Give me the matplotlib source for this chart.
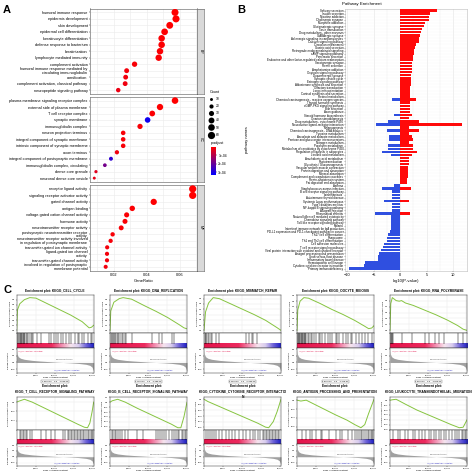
import numpy as np
import matplotlib
matplotlib.use("Agg")
import matplotlib.pyplot as plt
from matplotlib.colors import LinearSegmentedColormap, Normalize
from matplotlib.cm import ScalarMappable
from matplotlib.lines import Line2D

# ---------------- panel A: GO dot plot ----------------
bp_terms = ["humoral immune response", "epidermis development", "skin development",
            "epidermal cell differentiation", "keratinocyte differentiation",
            "defense response to bacterium", "keratinization", "lymphocyte mediated immunity",
            "complement activation", "humoral immune response mediated by\ncirculating immunoglobulin",
            "cornification", "complement activation, classical pathway", "neuropeptide signaling pathway"]
bp_ratio = [0.0570, 0.0576, 0.0538, 0.0507, 0.0489, 0.0489, 0.0479, 0.0471, 0.0325, 0.0277, 0.0271, 0.0268, 0.0226]
bp_count = [57, 58, 54, 51, 49, 49, 48, 47, 33, 28, 27, 27, 23]
bp_padj = [1e-6, 1e-6, 2e-6, 3e-6, 4e-6, 4e-6, 5e-6, 6e-6, 1e-5, 1.5e-5, 1.8e-5, 2e-5, 2.5e-5]

cc_terms = ["plasma membrane signaling receptor complex", "external side of plasma membrane",
            "T cell receptor complex", "synaptic membrane", "immunoglobulin complex",
            "neuron projection terminus", "integral component of synaptic membrane",
            "intrinsic component of synaptic membrane", "axon terminus",
            "integral component of postsynaptic membrane", "immunoglobulin complex, circulating",
            "dense core granule", "neuronal dense core vesicle"]
cc_ratio = [0.0570, 0.0479, 0.0432, 0.0404, 0.0358, 0.0256, 0.0256, 0.0256, 0.0218, 0.0182, 0.0145, 0.0091, 0.0081]
cc_count = [50, 46, 38, 36, 32, 24, 24, 24, 21, 18, 16, 12, 10]
cc_padj = [1e-6, 2e-6, 5e-6, 3.1e-4, 1e-5, 1e-5, 1e-5, 1e-5, 2e-5, 2.7e-4, 1.8e-4, 4e-5, 3e-5]

mf_terms = ["receptor ligand activity", "signaling receptor activator activity", "gated channel activity",
            "antigen binding", "voltage-gated cation channel activity", "hormone activity",
            "neurotransmitter receptor activity", "postsynaptic neurotransmitter receptor\nactivity",
            "neurotransmitter receptor activity involved\nin regulation of postsynaptic membrane",
            "transmitter-gated ion channel activity", "ligand-gated ion channel\nactivity",
            "transmitter-gated channel activity", "involved in regulation of postsynaptic\nmembrane potential"]
mf_ratio = [0.0677, 0.0677, 0.0441, 0.0311, 0.0277, 0.0267, 0.0244, 0.0192, 0.0180, 0.0159, 0.0158, 0.0158, 0.0150]
mf_count = [60, 60, 45, 34, 30, 29, 28, 22, 21, 20, 20, 20, 19]
mf_padj = [1e-6, 1e-6, 3e-6, 5e-6, 6e-6, 7e-6, 8e-6, 1e-5, 1.2e-5, 1.5e-5, 1.5e-5, 1.5e-5, 1.8e-5]

legend_counts = [10, 20, 30, 40, 50, 60]

# ---------------- panel B: KEGG bars ----------------
pathways = [
    "Salivary secretion", "Insulin secretion", "Nicotine addiction", "Cholinergic synapse",
    "Morphine addiction", "Glutamatergic synapse", "Taste transduction", "Drug metabolism - other enzymes",
    "GABAergic synapse", "Adrenergic signaling in cardiomyocytes", "Calcium signaling pathway",
    "Circadian entrainment", "Gastric acid secretion", "Retrograde endocannabinoid signaling",
    "cAMP signaling pathway", "Pancreatic secretion",
    "Endocrine and other factor-regulated calcium reabsorption", "Serotonergic synapse",
    "Renin secretion", "Amphetamine addiction", "Oxytocin signaling pathway", "Dopaminergic synapse",
    "Synaptic vesicle cycle", "Estrogen signaling pathway", "Aldosterone synthesis and secretion",
    "Olfactory transduction", "Long-term potentiation", "Cortisol synthesis and secretion",
    "Retinol metabolism", "Chemical carcinogenesis - reactive oxygen species",
    "Thyroid hormone synthesis", "cGMP-PKG signaling pathway", "Bile secretion", "Axon guidance",
    "Steroid hormone biosynthesis", "Ovarian steroidogenesis", "Drug metabolism - cytochrome P450",
    "Neuroactive ligand-receptor interaction", "Melanogenesis", "Chemical carcinogenesis - DNA adducts",
    "Tyrosine metabolism", "Ascorbate and aldarate metabolism", "Pentose and glucuronate interconversions",
    "Nitrogen metabolism", "Porphyrin metabolism", "Metabolism of xenobiotics by cytochrome P450",
    "Regulation of lipolysis in adipocytes", "Linoleic acid metabolism", "Arachidonic acid metabolism",
    "Phototransduction", "Glycolysis / Gluconeogenesis", "Vascular smooth muscle contraction",
    "Protein digestion and absorption", "Mineral absorption", "Complement and coagulation cascades",
    "Renin-angiotensin system", "Fat digestion and absorption", "Asthma",
    "Staphylococcus aureus infection", "B cell receptor signaling pathway", "Leishmaniasis",
    "Autoimmune thyroid disease", "Systemic lupus erythematosus", "Type I diabetes mellitus",
    "NF-kappa B signaling pathway", "Allograft rejection", "Rheumatoid arthritis",
    "Natural killer cell mediated cytotoxicity", "Chemokine signaling pathway",
    "Toll-like receptor signaling pathway", "Malaria", "Intestinal immune network for IgA production",
    "PD-L1 expression and PD-1 checkpoint pathway in cancer", "Th17 cell differentiation", "Phagosome",
    "Th1 and Th2 cell differentiation", "Cell adhesion molecules", "T cell receptor signaling pathway",
    "Viral protein interaction with cytokine and cytokine receptor", "Antigen processing and presentation",
    "Graft-versus-host disease", "Inflammatory bowel disease", "Hematopoietic cell lineage",
    "Cytokine-cytokine receptor interaction", "Primary immunodeficiency"]
up_logp = [6.9, 5.7, 5.5, 5.5, 4.7, 4.4, 4.2, 4.0, 3.8, 3.6,
           3.5, 2.9, 2.8, 2.7, 2.6, 2.5, 2.4, 2.3, 2.3, 2.2,
           2.2, 2.1, 2.1, 2.0, 1.95, 1.9, 1.9, 1.9, 1.9, 2.95,
           1.9, 1.9, 1.8, 1.8, 2.2, 1.7, 3.5, 11.6, 1.7, 3.6,
           1.7, 2.3, 2.45, 1.6, 2.5, 2.5, 3.1, 2.2, 1.6, 1.6,
           1.6, 1.4, 1.4, 1.4, 1.4, 1.3, 1.2, 0, 2.0, 0,
           0, 0, 1.6, 0, 0, 0, 1.9, 0, 0, 0,
           0, 0, 0, 0, 0, 0, 0, 0, 0, 0,
           0, 0, 0, 0, 0]
down_logp = [0, 0, 0, 0, 0, 0, 0, 0, 0, 0,
             0, 0, 0, 0, 0, 0, 0, 0, 0, 0,
             0, 0, 0, 0, 0, 0, 0, 0, 0, -1.45,
             0, 0, 0, 0, -1.25, 0, -2.2, -4.6, 0, -2.4,
             0, -2.1, -2.1, 0, -2.3, -2.3, -3.5, -1.8, 0, 0,
             0, 0, 0, 0, 0, 0, 0, -1.25, -3.5, -1.45,
             -1.45, -1.45, -3.0, -1.5, -1.5, -1.5, -4.8, -1.7, -1.7, -1.7,
             -1.7, -1.8, -1.9, -2.2, -2.4, -2.5, -3.0, -3.3, -3.6, -3.9,
             -4.1, -4.2, -6.6, -6.9, -9.6]

# ---------------- panel C: GSEA plots ----------------
n_genes = 20300
gsea_titles = ["Enrichment plot: KEGG_CELL_CYCLE", "Enrichment plot: KEGG_DNA_REPLICATION",
               "Enrichment plot: KEGG_MISMATCH_REPAIR", "Enrichment plot: KEGG_OOCYTE_MEIOSIS",
               "Enrichment plot: KEGG_RNA_POLYMERASE",
               "Enrichment plot:\nKEGG_T_CELL_RECEPTOR_SIGNALING_PATHWAY",
               "Enrichment plot:\nKEGG_B_CELL_RECEPTOR_SIGNALING_PATHWAY",
               "Enrichment plot:\nKEGG_CYTOKINE_CYTOKINE_RECEPTOR_INTERACTIO\nN",
               "Enrichment plot:\nKEGG_ANTIGEN_PROCESSING_AND_PRESENTATION",
               "Enrichment plot:\nKEGG_LEUKOCYTE_TRANSENDOTHELIAL_MIGRATION"]
es_x = [
    [0, 0.01, 0.04, 0.1, 0.17, 0.25, 0.4, 0.55, 0.7, 0.85, 0.94, 0.97, 1.0],
    [0, 0.01, 0.05, 0.12, 0.17, 0.28, 0.45, 0.6, 0.75, 0.9, 0.96, 1.0],
    [0, 0.02, 0.06, 0.12, 0.2, 0.35, 0.5, 0.65, 0.8, 0.95, 1.0],
    [0, 0.01, 0.04, 0.09, 0.15, 0.3, 0.45, 0.6, 0.75, 0.88, 0.93, 0.97, 1.0],
    [0, 0.01, 0.03, 0.08, 0.12, 0.15, 0.2, 0.3, 0.45, 0.6, 0.75, 0.88, 0.95, 1.0],
    [0, 0.03, 0.1, 0.2, 0.35, 0.5, 0.65, 0.8, 0.88, 0.92, 0.95, 0.98, 1.0],
    [0, 0.03, 0.1, 0.2, 0.35, 0.5, 0.65, 0.8, 0.88, 0.92, 0.96, 1.0],
    [0, 0.05, 0.15, 0.3, 0.45, 0.6, 0.7, 0.8, 0.84, 0.9, 0.95, 1.0],
    [0, 0.05, 0.12, 0.2, 0.35, 0.5, 0.65, 0.75, 0.83, 0.88, 0.93, 1.0],
    [0, 0.03, 0.08, 0.2, 0.35, 0.5, 0.65, 0.8, 0.9, 0.95, 1.0]]
es_y = [
    [0, 0.4, 0.52, 0.6, 0.64, 0.63, 0.52, 0.41, 0.3, 0.17, 0.05, 0.06, 0.1],
    [0, 0.38, 0.55, 0.62, 0.64, 0.61, 0.48, 0.37, 0.25, 0.11, 0.05, 0.03],
    [0, 0.35, 0.52, 0.62, 0.6, 0.5, 0.4, 0.3, 0.19, 0.05, 0.0],
    [0, 0.35, 0.5, 0.56, 0.55, 0.46, 0.36, 0.27, 0.17, 0.07, 0.03, 0.04, 0.08],
    [0, 0.45, 0.55, 0.5, 0.49, 0.5, 0.46, 0.42, 0.34, 0.26, 0.17, 0.08, 0.02, 0.0],
    [0, 0.02, 0.06, 0.0, -0.12, -0.24, -0.36, -0.48, -0.54, -0.55, -0.45, -0.2, 0.0],
    [0, 0.03, 0.06, 0.0, -0.12, -0.23, -0.34, -0.45, -0.52, -0.52, -0.3, 0.0],
    [0, -0.04, -0.1, -0.19, -0.28, -0.37, -0.43, -0.5, -0.51, -0.4, -0.22, 0.0],
    [0, -0.02, 0.0, -0.07, -0.2, -0.33, -0.45, -0.55, -0.62, -0.55, -0.3, 0.02],
    [0, 0.01, 0.02, -0.08, -0.2, -0.3, -0.4, -0.5, -0.56, -0.55, -0.4]]
hits = [
    [0.01, 0.02, 0.03, 0.04, 0.05, 0.06, 0.07, 0.08, 0.09, 0.1, 0.11, 0.13, 0.14, 0.16, 0.18, 0.2, 0.21,
     0.26, 0.32, 0.42, 0.44, 0.48, 0.51, 0.54, 0.57, 0.6, 0.64, 0.68, 0.7, 0.76, 0.79, 0.81, 0.85, 0.88,
     0.92, 0.96, 0.98],
    [0.01, 0.02, 0.04, 0.05, 0.07, 0.08, 0.1, 0.11, 0.13, 0.15, 0.17, 0.19, 0.21, 0.28, 0.55, 0.63, 0.68,
     0.81, 0.83],
    [0.01, 0.02, 0.03, 0.05, 0.07, 0.09, 0.11, 0.16, 0.2, 0.54, 0.58, 0.62, 0.64, 0.69],
    [0.0, 0.01, 0.02, 0.03, 0.04, 0.05, 0.06, 0.07, 0.08, 0.09, 0.1, 0.11, 0.12, 0.14, 0.16, 0.18, 0.2,
     0.22, 0.25, 0.28, 0.3, 0.33, 0.37, 0.4, 0.43, 0.46, 0.5, 0.52, 0.55, 0.6, 0.63, 0.66, 0.7, 0.72, 0.76,
     0.8, 0.85, 0.88, 0.92, 0.97],
    [0.005, 0.01, 0.02, 0.03, 0.04, 0.15, 0.29, 0.45, 0.51, 0.59, 0.64, 0.7, 0.88, 0.95],
    [0.04, 0.06, 0.08, 0.1, 0.12, 0.14, 0.17, 0.2, 0.32, 0.38, 0.44, 0.5, 0.6, 0.63, 0.66, 0.68, 0.7,
     0.72, 0.74, 0.76, 0.78, 0.8, 0.82, 0.84, 0.86, 0.88, 0.9, 0.92, 0.94, 0.96, 0.98, 0.99],
    [0.02, 0.04, 0.06, 0.08, 0.1, 0.13, 0.16, 0.2, 0.24, 0.35, 0.43, 0.6, 0.62, 0.65, 0.68, 0.7, 0.73,
     0.76, 0.8, 0.83, 0.86, 0.88, 0.9, 0.93, 0.95, 0.97, 0.99],
    [0.02, 0.05, 0.08, 0.1, 0.13, 0.16, 0.2, 0.24, 0.28, 0.32, 0.36, 0.4, 0.45, 0.5, 0.55, 0.6, 0.63,
     0.66, 0.7, 0.73, 0.76, 0.78, 0.8, 0.82, 0.84, 0.86, 0.88, 0.9, 0.92, 0.94, 0.96, 0.98],
    [0.06, 0.12, 0.17, 0.19, 0.25, 0.31, 0.33, 0.41, 0.5, 0.56, 0.58, 0.66, 0.72, 0.75, 0.78, 0.8, 0.83,
     0.85, 0.87, 0.9, 0.92, 0.94, 0.96, 0.98, 0.99],
    [0.04, 0.1, 0.13, 0.2, 0.24, 0.3, 0.33, 0.38, 0.42, 0.45, 0.5, 0.53, 0.57, 0.6, 0.63, 0.66, 0.7, 0.73,
     0.76, 0.8, 0.84, 0.87, 0.9, 0.93, 0.95, 0.97, 0.99]]
rank_x = [0, 0.005, 0.02, 0.05, 0.1, 0.2, 0.3, 0.4, 0.5, 0.6, 0.7, 0.8, 0.9, 0.95, 0.98, 1.0]
rank_metric = [5, 3.2, 2.2, 1.6, 1.2, 0.8, 0.55, 0.35, 0.15, 0.0, -0.15, -0.35, -0.7, -1.1, -1.8, -3.5]
table_texts = ["1.56e+00    0.0    4.52e-01", "1.71e+00    0.0    3.38e-01", "1.48e+00    0.0    5.06e-01",
               "1.60e+00    0.0    4.11e-01", "1.52e+00    0.0    4.87e-01"]

plt.rcParams["font.family"] = ["Liberation Sans", "DejaVu Sans"]
W = 474.0


def rect(x0, y0, x1, y1):
    return [x0 / W, 1 - y1 / W, (x1 - x0) / W, (y1 - y0) / W]


fig = plt.figure(figsize=(4.74, 4.74), dpi=100)
fig.patch.set_facecolor("white")

for lab, (lx, ly) in zip("ABC", [(3, 10), (237, 10), (3, 290)]):
    fig.text(lx / W, 1 - ly / W, lab, fontsize=8, fontweight="bold", va="center")

# ---- A ----
padj_cmap = LinearSegmentedColormap.from_list("padj", ["#FF0000", "#0000FF"])
padj_norm = Normalize(vmin=0, vmax=3.3e-4)


def dot_facet(y0, y1, terms, ratio, count, padj, strip, show_x):
    ax = fig.add_axes(rect(90, y0, 197.3, y1))
    pos = np.arange(1, len(terms) + 1)
    ax.scatter(ratio, pos, s=np.array(count) * 0.45, c=padj, cmap=padj_cmap, norm=padj_norm,
               edgecolors="none", zorder=3)
    ax.set_ylim(len(terms) + 0.6, 0.4)
    ax.set_xlim(0.0055, 0.0705)
    ax.set_yticks(pos)
    ax.set_yticklabels(terms, fontsize=2.5, linespacing=0.85)
    ax.set_xticks([0.02, 0.04, 0.06])
    ax.set_xticks([0.01, 0.03, 0.05, 0.07], minor=True)
    ax.grid(True, which="both", color="#EBEBEB", lw=0.4)
    ax.set_axisbelow(True)
    ax.tick_params(length=1, width=0.3, pad=0.8, labelsize=2.8)
    ax.tick_params(which="minor", length=0)
    if show_x:
        ax.set_xlabel("GeneRatio", fontsize=3, labelpad=1)
    else:
        ax.set_xticklabels([])
        ax.tick_params(axis="x", length=0)
    for s in ax.spines.values():
        s.set_color("#555555")
        s.set_linewidth(0.4)
    sx = fig.add_axes(rect(197.3, y0, 204, y1))
    sx.set_facecolor("#D9D9D9")
    sx.set_xticks([])
    sx.set_yticks([])
    for s in sx.spines.values():
        s.set_color("#555555")
        s.set_linewidth(0.4)
    sx.text(0.5, 0.5, strip, rotation=-90, fontsize=2.6, ha="center", va="center", transform=sx.transAxes)


dot_facet(8.5, 94, bp_terms, bp_ratio, bp_count, bp_padj, "BP", False)
dot_facet(96.7, 182, cc_terms, cc_ratio, cc_count, cc_padj, "CC", False)
dot_facet(185, 270.7, mf_terms, mf_ratio, mf_count, mf_padj, "MF", True)

handles = [Line2D([], [], marker="o", linestyle="", color="black", markeredgewidth=0,
                  markersize=np.sqrt(c * 0.45)) for c in legend_counts]
fig.legend(handles, [str(c) for c in legend_counts], title="Count", loc="upper left",
           bbox_to_anchor=(208 / W, 1 - 88 / W), frameon=False, fontsize=2.4, title_fontsize=2.7,
           labelspacing=0.95, handletextpad=0.8, borderpad=0, handlelength=1)

cax = fig.add_axes(rect(210.7, 147, 216, 175))
cb = fig.colorbar(ScalarMappable(norm=padj_norm, cmap=padj_cmap), cax=cax)
cax.invert_yaxis()
cb.set_ticks([1e-4, 2e-4, 3e-4])
cb.set_ticklabels(["1e-04", "2e-04", "3e-04"])
cb.outline.set_visible(False)
cax.tick_params(labelsize=2.4, length=0.8, width=0.3, pad=0.8)
fig.text(210.5 / W, 1 - 143 / W, "p.adjust", fontsize=2.7, va="center")

# ---- B ----
axb = fig.add_axes(rect(345, 9, 467, 271))
yb = np.arange(len(pathways))
axb.barh(yb, down_logp, height=0.85, color="#2F4FE0", zorder=3)
axb.barh(yb, up_logp, height=0.85, color="#FF0A0A", zorder=3)
axb.set_ylim(84.8, -0.55)
axb.set_xlim(-10.4, 12.6)
axb.set_yticks(yb)
axb.set_yticklabels(pathways, fontsize=2.1)
axb.set_xticks([-10, -5, 0, 5, 10])
axb.set_xticks([-7.5, -2.5, 2.5, 7.5], minor=True)
axb.grid(True, axis="x", which="major", color="#E3E3E3", lw=0.4)
axb.grid(True, axis="x", which="minor", color="#F0F0F0", lw=0.3)
axb.grid(True, axis="y", color="#F2F2F2", lw=0.2)
axb.set_axisbelow(True)
axb.tick_params(length=1, width=0.3, pad=0.8, labelsize=2.8)
axb.tick_params(axis="y", length=0.6, labelsize=2.1, pad=0.5)
axb.tick_params(which="minor", length=0)
for s in axb.spines.values():
    s.set_color("#BBBBBB")
    s.set_linewidth(0.4)
axb.set_xlabel("log10(P-value)", fontsize=3, labelpad=1)
fig.text(362 / W, 1 - 4 / W, "Pathway Enrichment", fontsize=3.2, ha="center", va="center")
fig.text(247 / W, 1 - 140 / W, "pathway names", fontsize=2.8, rotation=90, ha="center", va="center")

# ---- C ----
bar_cmap = LinearSegmentedColormap.from_list(
    "rank", [(0, "#E3124A"), (0.45, "#EC2A5E"), (0.58, "#F28BAE"), (0.7, "#F6E4EE"),
             (0.8, "#D8CCEE"), (0.9, "#6F63D8"), (1, "#1E1EC4")])
col_x = [16.7, 110, 204, 297, 390]
# title y, title anchor, ES top, ES bottom / hits top, hits bottom, ranked bottom
row_y = [(291, "center", 295, 333, 348, 373), (384.5, "top", 397, 430, 444, 466)]


def small_axes(ax):
    for s in ax.spines.values():
        s.set_linewidth(0.35)
        s.set_color("#333333")
    ax.tick_params(length=0.8, width=0.25, pad=0.5, labelsize=1.6)


for k in range(10):
    r, c = divmod(k, 5)
    ty, tva, e0, e1, h1, r1 = row_y[r]
    x0 = col_x[c]
    x1 = x0 + 77
    fig.text((x0 + 38.5) / W, 1 - ty / W, gsea_titles[k], fontsize=2.3, fontweight="bold",
             ha="center", va=tva, linespacing=1.4)

    ex = np.array(es_x[k]) * n_genes
    ey = np.array(es_y[k])
    a1 = fig.add_axes(rect(x0, e0, x1, e1))
    a1.plot(ex, ey, color="#86C440", lw=0.7)
    a1.set_xlim(0, n_genes)
    pad = (ey.max() - ey.min()) * 0.08
    a1.set_ylim(ey.min() - pad, ey.max() + pad)
    a1.grid(True, color="#E6E6E6", lw=0.3)
    a1.set_xticks([0, 5000, 10000, 15000, 20000])
    a1.set_xticklabels([])
    a1.tick_params(axis="x", length=0)
    small_axes(a1)
    a1.set_ylabel("Running Enrichment Score", fontsize=1.5, labelpad=0.8)

    a2 = fig.add_axes(rect(x0, e1, x1, h1))
    a2.imshow(np.linspace(0, 1, 256)[None, :], aspect="auto", cmap=bar_cmap,
              extent=[0, n_genes, 0, 0.3])
    a2.vlines(np.array(hits[k]) * n_genes, 0.3, 1, color="black", lw=0.35)
    a2.set_xlim(0, n_genes)
    a2.set_ylim(0, 1)
    a2.set_xticks([])
    a2.set_yticks([])
    small_axes(a2)

    a3 = fig.add_axes(rect(x0, h1, x1, r1))
    rx = np.array(rank_x) * n_genes
    a3.fill_between(rx, 0, rank_metric, color="#A0A0A0", lw=0)
    a3.set_xlim(0, n_genes)
    a3.set_ylim(-4, 5.5)
    a3.set_xticks([0, 5000, 10000, 15000, 20000])
    a3.set_xticklabels(["0", "5,000", "10,000", "15,000", "20,000"])
    a3.set_yticks([-2.5, 0, 2.5, 5])
    a3.grid(True, color="#EEEEEE", lw=0.3)
    a3.set_axisbelow(True)
    small_axes(a3)
    a3.set_ylabel("Ranked list metric", fontsize=1.5, labelpad=0.8)
    a3.set_xlabel("Rank in Ordered Dataset", fontsize=1.6, labelpad=0.5)
    a3.text(0.02, 0.93, "'na_pos' (positively correlated)", color="#E3124A", fontsize=1.4,
            transform=a3.transAxes, va="top")
    a3.text(0.62, 0.52, "Zero score at 12180", color="#444444", fontsize=1.4,
            transform=a3.transAxes, ha="center")
    a3.text(0.65, 0.12, "'na_neg' (negatively correlated)", color="#2020C0", fontsize=1.4,
            transform=a3.transAxes, ha="center")

    if r == 0:
        fig.text((x0 + 38.5) / W, 1 - 381.5 / W, table_texts[c], fontsize=1.6, ha="center", va="center",
                 bbox=dict(boxstyle="square,pad=0.3", fc="white", ec="#777777", lw=0.3))

fig.savefig("out.png", dpi=100, facecolor="white")
